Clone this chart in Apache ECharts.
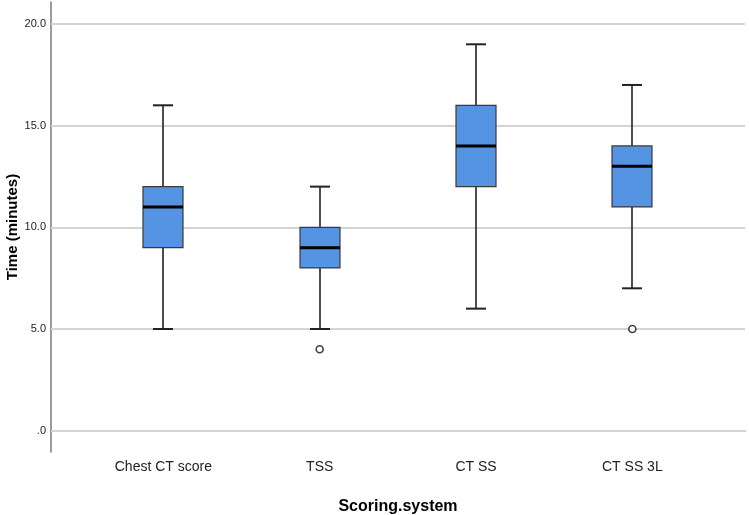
<!DOCTYPE html>
<html>
<head>
<meta charset="utf-8">
<script src="https://cdn.jsdelivr.net/npm/echarts@6/dist/echarts.min.js"></script>
<style>html,body{margin:0;padding:0;background:#fff}#c{width:749px;height:515px}</style>
</head>
<body>
<div id="c"></div>
<script>
const categories = ['Chest CT score', 'TSS', 'CT SS', 'CT SS 3L'];
// [min whisker, Q1, median, Q3, max whisker]
const boxStats = [
  [5, 9, 11, 12, 16],
  [5, 8, 9, 10, 12],
  [6, 12, 14, 16, 19],
  [7, 11, 13, 14, 17]
];
// outliers: [category index, value]
const outliers = [
  [1, 4],
  [3, 5]
];
const yTicks = [0, 5, 10, 15, 20];
const yMin = -1.05, yMax = 21.08;

const sans = "'Liberation Sans', Arial, sans-serif";
const chart = echarts.init(document.getElementById('c'), null, {renderer: 'canvas'});

const boxData = boxStats.map((s, i) => [i].concat(s));

function renderBox(params, api) {
  const x = api.value(0);
  const lo = api.coord([x, api.value(1)]);
  const q1 = api.coord([x, api.value(2)]);
  const md = api.coord([x, api.value(3)]);
  const q3 = api.coord([x, api.value(4)]);
  const hi = api.coord([x, api.value(5)]);
  const cx = Math.round(lo[0]);
  const bw = 40, cw = 20;
  const lineC = '#222';
  return {
    type: 'group',
    children: [
      {type: 'line', shape: {x1: cx, y1: hi[1], x2: cx, y2: q3[1]}, style: {stroke: lineC, lineWidth: 1.6}},
      {type: 'line', shape: {x1: cx, y1: q1[1], x2: cx, y2: lo[1]}, style: {stroke: lineC, lineWidth: 1.6}},
      {type: 'line', shape: {x1: cx - cw / 2, y1: hi[1], x2: cx + cw / 2, y2: hi[1]}, style: {stroke: lineC, lineWidth: 2}},
      {type: 'line', shape: {x1: cx - cw / 2, y1: lo[1], x2: cx + cw / 2, y2: lo[1]}, style: {stroke: lineC, lineWidth: 2}},
      {type: 'rect', shape: {x: cx - bw / 2, y: q3[1], width: bw, height: q1[1] - q3[1]}, style: {fill: '#5593e3', stroke: '#3a3a3a', lineWidth: 1.2}},
      {type: 'line', shape: {x1: cx - bw / 2, y1: md[1], x2: cx + bw / 2, y2: md[1]}, style: {stroke: '#000', lineWidth: 3}}
    ]
  };
}

const option = {
  animation: false,
  backgroundColor: '#fff',
  grid: [
    {left: 51, right: 4, top: 2, bottom: 63, containLabel: false, outerBoundsMode: 'none'},
    {left: 85.2, right: 38.5, top: 2, bottom: 63, containLabel: false, outerBoundsMode: 'none'}
  ],
  xAxis: [
    {
      gridIndex: 0, type: 'value', min: 0, max: 1,
      axisLine: {show: true, lineStyle: {color: '#7a7a7a', width: 1.5}},
      axisTick: {show: false}, axisLabel: {show: false}, splitLine: {show: false},
      name: 'Scoring.system', nameLocation: 'middle', nameGap: 47, nameMoveOverlap: false,
      nameTextStyle: {fontFamily: sans, fontWeight: 'bold', fontSize: 16, color: '#000', verticalAlign: 'top'}
    },
    {
      gridIndex: 1, type: 'category', data: categories, boundaryGap: true,
      axisLine: {show: false}, axisTick: {show: false}, splitLine: {show: false},
      axisLabel: {fontFamily: sans, fontSize: 14, color: '#222', margin: 8}
    }
  ],
  yAxis: [
    {
      gridIndex: 0, type: 'value', min: yMin, max: yMax,
      axisLine: {show: true, lineStyle: {color: '#7a7a7a', width: 1.5}},
      axisTick: {show: false},
      splitLine: {show: false},
      axisLabel: {
        customValues: yTicks,
        fontFamily: sans, fontSize: 11, color: '#222', margin: 5,
        formatter: v => v === 0 ? '.0' : v.toFixed(1)
      },
      name: 'Time (minutes)', nameLocation: 'middle', nameGap: 31, nameRotate: 90, nameMoveOverlap: false,
      nameTextStyle: {fontFamily: sans, fontWeight: 'bold', fontSize: 15, color: '#000'}
    },
    {
      gridIndex: 1, type: 'value', min: yMin, max: yMax, show: false
    }
  ],
  series: [
    {
      type: 'line', xAxisIndex: 0, yAxisIndex: 0, data: [], silent: true,
      markLine: {
        silent: true, symbol: 'none', label: {show: false},
        lineStyle: {color: '#d4d4d4', width: 2, type: 'solid'},
        data: yTicks.map(v => ({yAxis: v}))
      }
    },
    {
      type: 'custom', xAxisIndex: 1, yAxisIndex: 1, data: boxData,
      encode: {x: 0, y: [1, 2, 3, 4, 5]},
      renderItem: renderBox, z: 5
    },
    {
      type: 'scatter', xAxisIndex: 1, yAxisIndex: 1, data: outliers,
      symbol: 'circle', symbolSize: 7,
      itemStyle: {color: '#fff', borderColor: '#111', borderWidth: 1.6}, z: 6
    }
  ]
};
chart.setOption(option);
</script>
</body>
</html>
